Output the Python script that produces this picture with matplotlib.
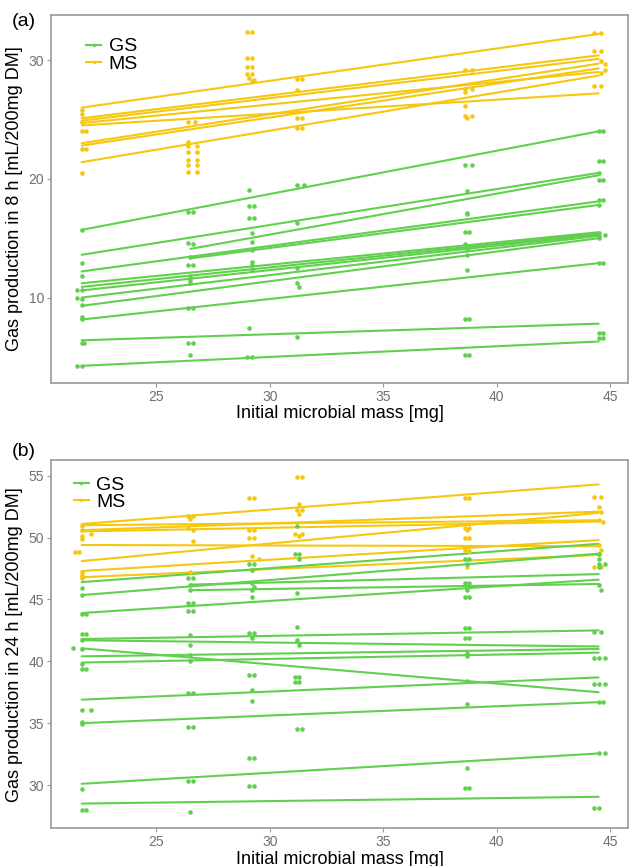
#!/usr/bin/env python3
"""Gas production vs initial microbial mass, two panels (8 h and 24 h)."""

import matplotlib
matplotlib.use("Agg")
import matplotlib.pyplot as plt
from matplotlib.lines import Line2D

GREEN = "#61D04F"
YELLOW = "#F5C710"

# ---- panel (a): 8 h -------------------------------------------------------
# regression lines: start x, start y, end y (end x is the last mass)
ms8_x0 = [21.7, 21.7, 21.7, 21.7, 21.7, 21.7, 21.7, 21.7]
ms8_y0 = [26.0, 25.1, 24.9, 24.7, 24.5, 23.0, 22.8, 21.4]
ms8_y1 = [32.2, 30.4, 30.1, 29.0, 27.2, 29.7, 29.3, 28.7]

gs8_x0 = [21.7, 21.7, 26.5, 21.7, 26.5, 21.7, 21.7, 21.7, 21.7, 21.7,
          21.7, 21.7, 21.7]
gs8_y0 = [15.7, 13.6, 14.1, 12.2, 13.3, 11.2, 10.9, 10.6, 10.0, 9.3,
          8.15, 6.4, 4.25]
gs8_y1 = [24.0, 20.5, 20.3, 18.1, 17.8, 15.5, 15.4, 15.3, 15.2, 15.0,
          12.9, 7.8, 6.3]

ms8_px = [21.7, 21.7, 21.7, 21.7, 21.9, 21.7, 21.9, 21.7,
          26.4, 26.7, 26.4, 26.4, 26.8, 26.4, 26.8, 26.4, 26.8, 26.4, 26.8, 26.4, 26.8,
          29.0, 29.2, 29.0, 29.2, 29.0, 29.2, 29.0, 29.2, 29.1, 29.3, 29.2,
          31.2, 31.4, 31.2, 31.2, 31.4, 31.2, 31.4,
          38.6, 38.9, 38.6, 38.9, 38.6, 38.6, 38.6, 38.9, 38.7,
          44.3, 44.6, 44.3, 44.6, 44.6, 44.8, 44.8, 44.6, 44.3, 44.6]
ms8_py = [25.8, 25.5, 24.8, 24.0, 24.0, 22.5, 22.5, 20.45,
          24.8, 24.8, 23.1, 22.8, 22.8, 22.3, 22.3, 21.6, 21.6, 21.2, 21.2, 20.6, 20.6,
          32.4, 32.4, 30.2, 30.2, 29.4, 29.4, 28.8, 28.8, 28.5, 28.3, 28.2,
          28.4, 28.4, 27.5, 25.1, 25.1, 24.3, 24.3,
          29.2, 29.2, 27.6, 27.6, 27.3, 26.1, 25.3, 25.3, 25.1,
          32.3, 32.3, 30.8, 30.8, 29.9, 29.7, 29.2, 28.9, 27.8, 27.8]

gs8_px = [21.7, 21.7, 21.7, 21.7, 21.5, 21.5, 21.7, 21.7, 21.7, 21.7, 21.7, 21.8, 21.7, 21.5,
          26.4, 26.6, 26.4, 26.6, 26.5, 26.4, 26.6, 26.5, 26.5, 26.5, 26.4, 26.6, 26.4, 26.6, 26.5,
          29.1, 29.1, 29.3, 29.1, 29.3, 29.2, 29.2, 29.2, 29.2, 29.2, 29.2, 29.1, 29.0, 29.2,
          31.2, 31.5, 31.2, 31.2, 31.2, 31.3, 31.2,
          38.6, 38.9, 38.7, 38.7, 38.7, 38.6, 38.8, 38.6, 38.7, 38.7, 38.7, 38.6, 38.8, 38.6, 38.8,
          44.5, 44.7, 44.5, 44.7, 44.5, 44.5, 44.7, 44.5, 44.7, 44.5, 44.5, 44.5, 44.5, 44.8,
          44.5, 44.7, 44.5, 44.7, 44.5, 44.7]
gs8_py = [15.7, 12.9, 11.8, 10.6, 10.6, 10.0, 9.9, 9.35, 8.4, 8.2, 6.2, 6.2, 4.25, 4.25,
          17.2, 17.2, 14.6, 14.5, 13.4, 12.7, 12.7, 11.8, 11.5, 11.2, 9.1, 9.1, 6.2, 6.2, 5.2,
          19.1, 17.7, 17.7, 16.7, 16.7, 15.4, 14.7, 14.0, 13.0, 12.7, 12.3, 7.45, 5.0, 5.0,
          19.5, 19.5, 16.3, 12.5, 11.2, 10.9, 6.7,
          21.15, 21.15, 19.0, 17.1, 17.0, 15.5, 15.5, 14.55, 14.1, 13.6, 12.3, 8.2, 8.2, 5.2, 5.2,
          24.0, 24.0, 21.5, 21.5, 20.5, 19.9, 19.9, 18.2, 18.2, 17.8, 15.4, 15.2, 15.0, 15.3,
          12.9, 12.9, 7.0, 7.0, 6.6, 6.6]

# ---- panel (b): 24 h ------------------------------------------------------
ms24_x0 = [21.7, 21.7, 21.7, 21.7, 21.7, 21.7, 21.7, 21.7]
ms24_y0 = [51.1, 51.0, 50.6, 50.5, 49.4, 48.1, 47.3, 46.8]
ms24_y1 = [54.3, 51.4, 52.1, 51.3, 49.3, 52.0, 49.8, 48.6]

gs24_x0 = [21.7, 21.7, 26.5, 26.5, 21.7, 21.7, 21.7, 21.7, 21.7, 21.7,
           21.7, 21.7, 21.7, 21.7]
gs24_y0 = [46.4, 45.35, 46.2, 45.75, 43.9, 41.8, 41.7, 41.05, 40.4, 39.9,
           36.9, 35.0, 30.1, 28.5]
gs24_y1 = [49.5, 48.7, 47.05, 46.25, 46.6, 42.5, 41.2, 37.5, 41.0, 40.7,
           38.7, 36.7, 32.55, 29.05]

ms24_px = [21.7, 21.7, 22.1, 21.7, 21.7, 21.4, 21.6, 21.7, 21.7, 21.7,
           26.4, 26.6, 26.5, 26.4, 26.6, 26.6, 26.5,
           29.1, 29.3, 29.1, 29.3, 29.1, 29.3, 29.2, 29.5, 29.2,
           31.2, 31.4, 31.3, 31.2, 31.4, 31.3, 31.1, 31.4, 31.3,
           38.6, 38.8, 38.6, 38.8, 38.7, 38.6, 38.8, 38.6, 38.8, 38.7,
           44.3, 44.6, 44.5, 44.6, 44.5, 44.7, 44.5, 44.6, 44.5, 44.3, 44.6]
ms24_py = [50.9, 50.65, 50.3, 50.1, 49.85, 48.85, 48.85, 47.25, 47.0, 46.75,
           51.75, 51.75, 51.5, 50.75, 50.6, 49.7, 47.25,
           53.2, 53.2, 50.6, 50.6, 50.0, 50.0, 48.5, 48.3, 47.4,
           54.9, 54.9, 52.7, 52.2, 52.2, 51.9, 50.3, 50.3, 50.1,
           53.2, 53.2, 50.75, 50.75, 50.6, 50.0, 50.0, 49.0, 48.9, 47.65,
           53.3, 53.3, 52.5, 52.1, 51.4, 51.3, 49.4, 49.0, 48.7, 47.6, 47.6]

gs24_px = [21.7, 21.7, 21.7, 21.9, 21.7, 21.9, 21.7, 21.3, 21.7, 21.7, 21.7, 21.9,
           21.7, 22.1, 21.7, 21.7, 21.7, 21.7, 21.9,
           26.4, 26.6, 26.5, 26.5, 26.4, 26.6, 26.4, 26.6, 26.5, 26.5, 26.5, 26.5,
           26.4, 26.6, 26.4, 26.6, 26.4, 26.6, 26.5,
           29.1, 29.3, 29.2, 29.2, 29.3, 29.2, 29.2, 29.1, 29.3, 29.2, 29.1, 29.3,
           29.2, 29.2, 29.1, 29.3, 29.1, 29.3,
           31.2, 31.1, 31.3, 31.3, 31.2, 31.2, 31.2, 31.3, 31.1, 31.3, 31.1, 31.3,
           31.2, 31.4,
           38.6, 38.8, 38.7, 38.6, 38.8, 38.7, 38.6, 38.8, 38.6, 38.8, 38.6, 38.8,
           38.7, 38.7, 38.7, 38.7, 38.7, 38.6, 38.8,
           44.5, 44.5, 44.5, 44.8, 44.5, 44.5, 44.6, 44.3, 44.6, 44.3, 44.5, 44.8,
           44.3, 44.5, 44.8, 44.5, 44.7, 44.5, 44.8, 44.3, 44.5]
gs24_py = [45.9, 45.35, 43.8, 43.8, 42.2, 42.2, 41.7, 41.05, 41.0, 39.8, 39.35, 39.35,
           36.05, 36.05, 35.1, 34.95, 29.7, 28.0, 28.0,
           46.7, 46.7, 46.2, 45.8, 44.7, 44.7, 44.05, 44.05, 42.1, 41.3, 40.5, 40.0,
           37.4, 37.4, 34.7, 34.7, 30.3, 30.3, 27.8,
           47.9, 47.9, 47.4, 46.3, 46.0, 45.8, 45.2, 42.25, 42.25, 41.9, 38.9, 38.9,
           37.7, 36.8, 32.15, 32.15, 29.95, 29.95,
           50.95, 48.7, 48.7, 48.3, 45.5, 42.8, 41.7, 41.35, 38.75, 38.75, 38.35, 38.35,
           34.5, 34.5,
           48.3, 48.3, 47.9, 46.3, 46.3, 45.8, 45.2, 45.2, 42.7, 42.7, 41.9, 41.9,
           40.65, 40.4, 38.4, 36.55, 31.4, 29.8, 29.8,
           48.7, 48.3, 47.9, 47.9, 47.6, 46.2, 45.8, 42.4, 42.4, 40.25, 40.25, 40.25,
           38.2, 38.2, 38.2, 36.75, 36.75, 32.6, 32.6, 28.15, 28.15]

x_end = 44.5
xticks = [25, 30, 35, 40, 45]


def draw_panel(ax, groups, yticks, ylim, ylabel, tag, tag_y, leg_xy):
    """Draw lines and points of one panel, styled like ggplot theme_classic."""
    for color, x0s, y0s, y1s, px, py in groups:
        for x0, y0, y1 in zip(x0s, y0s, y1s):
            ax.plot([x0, x_end], [y0, y1], color=color, lw=1.5,
                    solid_capstyle="round", zorder=2)
        ax.plot(px, py, "o", color=color, ms=3.3, mec="none", zorder=3)

    ax.set_xlim(20.35, 45.8)
    ax.set_ylim(*ylim)
    ax.set_xticks(xticks)
    ax.set_yticks(yticks)
    ax.tick_params(colors="#999999", labelcolor="#707070", labelsize=10,
                   length=3, width=0.8, pad=2)
    for s in ax.spines.values():
        s.set_color("#9a9a9a")
        s.set_linewidth(1.2)
    ax.set_xlabel("Initial microbial mass [mg]", fontsize=13, labelpad=1)
    ax.set_ylabel(ylabel, fontsize=13, labelpad=4)

    handles = [Line2D([], [], color=GREEN, lw=1.5, marker="o", ms=2.5, mec="none"),
               Line2D([], [], color=YELLOW, lw=1.5, marker="o", ms=2.5, mec="none")]
    ax.legend(handles, ["GS", "MS"], loc="center left", bbox_to_anchor=leg_xy,
              frameon=False, fontsize=14, handlelength=0.75, handletextpad=0.4,
              labelspacing=0.0, borderpad=0, borderaxespad=0)
    ax.text(-0.068, tag_y, tag, transform=ax.transAxes, fontsize=14,
            ha="left", va="center")


def main():
    plt.rcParams["font.family"] = ["Liberation Sans", "DejaVu Sans"]
    fig = plt.figure(figsize=(6.3, 8.66), dpi=100)
    ax_a = fig.add_axes([0.081, 0.5577, 0.916, 0.425])
    ax_b = fig.add_axes([0.081, 0.0435, 0.916, 0.4253])

    draw_panel(ax_a,
               [(YELLOW, ms8_x0, ms8_y0, ms8_y1, ms8_px, ms8_py),
                (GREEN, gs8_x0, gs8_y0, gs8_y1, gs8_px, gs8_py)],
               [10, 20, 30], (2.8, 33.8),
               "Gas production in 8 h [mL/200mg DM]", "(a)", 0.981, (0.061, 0.89))
    draw_panel(ax_b,
               [(YELLOW, ms24_x0, ms24_y0, ms24_y1, ms24_px, ms24_py),
                (GREEN, gs24_x0, gs24_y0, gs24_y1, gs24_px, gs24_py)],
               [30, 35, 40, 45, 50, 55], (26.5, 56.27),
               "Gas production in 24 h [mL/200mg DM]", "(b)", 1.022, (0.04, 0.909))

    fig.savefig("out.png", dpi=100)


if __name__ == "__main__":
    main()
